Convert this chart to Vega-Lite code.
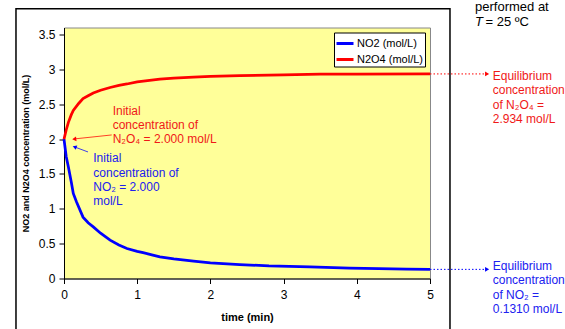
{
  "$schema": "https://vega.github.io/schema/vega-lite/v6.json",
  "width": 366,
  "height": 251,
  "autosize": {"type": "none"},
  "padding": {"left": 64, "top": 27.5, "right": 135, "bottom": 50.5},
  "background": "white",
  "data": {"values": [{}]},
  "config": {
    "font": "Liberation Sans",
    "view": {"fill": "#FFFF99", "stroke": "#888888", "strokeWidth": 1},
    "axisX": {
      "tickCount": 5, "grid": false, "tickSize": 5, "labelFlush": false,
      "domainColor": "black", "tickColor": "black",
      "labelFontSize": 12, "labelColor": "black", "labelPadding": 6,
      "labelExpr": "format(abs(datum.value), '~g')",
      "titleFontSize": 11, "titleFontWeight": "bold", "titleColor": "black", "titlePadding": 11
    },
    "axisY": {
      "tickCount": 8, "grid": false, "tickSize": 5, "labelFlush": false,
      "domainColor": "black", "tickColor": "black",
      "labelFontSize": 12, "labelColor": "black", "labelPadding": 4,
      "labelExpr": "format(abs(datum.value), '~g')",
      "titleFontSize": 9, "titleFontWeight": "bold", "titleColor": "black", "titlePadding": 8
    },
    "legend": {
      "orient": "top-right",
      "offset": 5,
      "fillColor": "white",
      "strokeColor": "black",
      "strokeWidth": 1,
      "cornerRadius": 0,
      "padding": 1,
      "symbolType": "stroke",
      "symbolSize": 289,
      "symbolStrokeWidth": 3,
      "labelFont": "Liberation Sans",
      "labelFontSize": 11,
      "labelColor": "black",
      "labelOffset": 2,
      "rowPadding": 0
    }
  },
  "datasets": {
    "curves": [
      {"t": 0, "v": 2.0, "series": "NO2 (mol/L)"},
      {"t": 0.03, "v": 1.75, "series": "NO2 (mol/L)"},
      {"t": 0.06, "v": 1.6, "series": "NO2 (mol/L)"},
      {"t": 0.1, "v": 1.38, "series": "NO2 (mol/L)"},
      {"t": 0.127, "v": 1.22, "series": "NO2 (mol/L)"},
      {"t": 0.17, "v": 1.1, "series": "NO2 (mol/L)"},
      {"t": 0.26, "v": 0.88, "series": "NO2 (mol/L)"},
      {"t": 0.33, "v": 0.8, "series": "NO2 (mol/L)"},
      {"t": 0.4, "v": 0.74, "series": "NO2 (mol/L)"},
      {"t": 0.5, "v": 0.65, "series": "NO2 (mol/L)"},
      {"t": 0.63, "v": 0.55, "series": "NO2 (mol/L)"},
      {"t": 0.75, "v": 0.48, "series": "NO2 (mol/L)"},
      {"t": 0.86, "v": 0.43, "series": "NO2 (mol/L)"},
      {"t": 1.0, "v": 0.39, "series": "NO2 (mol/L)"},
      {"t": 1.08, "v": 0.37, "series": "NO2 (mol/L)"},
      {"t": 1.2, "v": 0.34, "series": "NO2 (mol/L)"},
      {"t": 1.31, "v": 0.31, "series": "NO2 (mol/L)"},
      {"t": 1.5, "v": 0.28, "series": "NO2 (mol/L)"},
      {"t": 1.77, "v": 0.25, "series": "NO2 (mol/L)"},
      {"t": 2.0, "v": 0.225, "series": "NO2 (mol/L)"},
      {"t": 2.4, "v": 0.2, "series": "NO2 (mol/L)"},
      {"t": 2.8, "v": 0.18, "series": "NO2 (mol/L)"},
      {"t": 3.36, "v": 0.167, "series": "NO2 (mol/L)"},
      {"t": 3.9, "v": 0.148, "series": "NO2 (mol/L)"},
      {"t": 4.3, "v": 0.142, "series": "NO2 (mol/L)"},
      {"t": 4.68, "v": 0.133, "series": "NO2 (mol/L)"},
      {"t": 5.0, "v": 0.131, "series": "NO2 (mol/L)"},
      {"t": 0, "v": 2.0, "series": "N2O4 (mol/L)"},
      {"t": 0.03, "v": 2.13, "series": "N2O4 (mol/L)"},
      {"t": 0.06, "v": 2.24, "series": "N2O4 (mol/L)"},
      {"t": 0.1, "v": 2.35, "series": "N2O4 (mol/L)"},
      {"t": 0.127, "v": 2.41, "series": "N2O4 (mol/L)"},
      {"t": 0.2, "v": 2.51, "series": "N2O4 (mol/L)"},
      {"t": 0.26, "v": 2.58, "series": "N2O4 (mol/L)"},
      {"t": 0.33, "v": 2.62, "series": "N2O4 (mol/L)"},
      {"t": 0.4, "v": 2.66, "series": "N2O4 (mol/L)"},
      {"t": 0.5, "v": 2.7, "series": "N2O4 (mol/L)"},
      {"t": 0.63, "v": 2.74, "series": "N2O4 (mol/L)"},
      {"t": 0.75, "v": 2.77, "series": "N2O4 (mol/L)"},
      {"t": 0.86, "v": 2.79, "series": "N2O4 (mol/L)"},
      {"t": 1.0, "v": 2.82, "series": "N2O4 (mol/L)"},
      {"t": 1.31, "v": 2.86, "series": "N2O4 (mol/L)"},
      {"t": 1.5, "v": 2.875, "series": "N2O4 (mol/L)"},
      {"t": 1.77, "v": 2.89, "series": "N2O4 (mol/L)"},
      {"t": 2.0, "v": 2.9, "series": "N2O4 (mol/L)"},
      {"t": 2.4, "v": 2.91, "series": "N2O4 (mol/L)"},
      {"t": 3.0, "v": 2.92, "series": "N2O4 (mol/L)"},
      {"t": 3.5, "v": 2.93, "series": "N2O4 (mol/L)"},
      {"t": 4.0, "v": 2.93, "series": "N2O4 (mol/L)"},
      {"t": 5.0, "v": 2.934, "series": "N2O4 (mol/L)"}
    ]
  },
  "layer": [
    {
      "data": {"name": "curves"},
      "mark": {"type": "line", "strokeWidth": 2.75},
      "encoding": {
        "x": {
          "field": "t", "type": "quantitative",
          "scale": {"domain": [0, 5], "nice": false, "zero": false},
          "axis": {"title": "time (min)"}
        },
        "y": {
          "field": "v", "type": "quantitative",
          "scale": {"domain": [0, 3.6], "nice": false},
          "axis": {"title": "NO2 and N2O4 concentration (mol/L)"}
        },
        "color": {
          "field": "series", "type": "nominal",
          "scale": {"domain": ["NO2 (mol/L)", "N2O4 (mol/L)"], "range": ["#0000FF", "#FF0000"]},
          "legend": {"title": null}
        }
      }
    },
    {
      "mark": {"type": "rect", "filled": false, "stroke": "black", "strokeWidth": 1.5},
      "encoding": {
        "x": {"datum": -0.656, "type": "quantitative"},
        "x2": {"datum": 5.273},
        "y": {"datum": 3.87, "type": "quantitative"},
        "y2": {"datum": -1.2}
      }
    },
    {
      "mark": {"type": "text", "align": "left", "baseline": "middle", "fontSize": 13, "color": "black"},
      "encoding": {
        "x": {"datum": 5.615, "type": "quantitative"},
        "y": {"datum": 3.896, "type": "quantitative"},
        "text": {"value": "performed at"}
      }
    },
    {
      "mark": {"type": "text", "align": "left", "baseline": "middle", "fontSize": 13, "fontStyle": "italic", "color": "black"},
      "encoding": {
        "x": {"datum": 5.615, "type": "quantitative"},
        "y": {"datum": 3.675, "type": "quantitative"},
        "text": {"value": "T"}
      }
    },
    {
      "mark": {"type": "text", "align": "left", "baseline": "middle", "fontSize": 13, "color": "black"},
      "encoding": {
        "x": {"datum": 5.758, "type": "quantitative"},
        "y": {"datum": 3.675, "type": "quantitative"},
        "text": {"value": "= 25 ºC"}
      }
    },
    {
      "mark": {"type": "text", "align": "left", "baseline": "middle", "fontSize": 12, "lineHeight": 14.3, "color": "#F01818"},
      "encoding": {
        "x": {"datum": 0.665, "type": "quantitative"},
        "y": {"datum": 2.407, "type": "quantitative"},
        "text": {"value": ["Initial", "concentration of", "N₂O₄ = 2.000 mol/L"]}
      }
    },
    {
      "mark": {"type": "text", "align": "left", "baseline": "middle", "fontSize": 12, "lineHeight": 14.3, "color": "#2020F0"},
      "encoding": {
        "x": {"datum": 0.4, "type": "quantitative"},
        "y": {"datum": 1.724, "type": "quantitative"},
        "text": {"value": ["Initial", "concentration of", "NO₂ = 2.000", "mol/L"]}
      }
    },
    {
      "mark": {"type": "text", "align": "left", "baseline": "middle", "fontSize": 12, "lineHeight": 14.3, "color": "#F01818"},
      "encoding": {
        "x": {"datum": 5.857, "type": "quantitative"},
        "y": {"datum": 2.904, "type": "quantitative"},
        "text": {"value": ["Equilibrium", "concentration", "of N₂O₄ =", "2.934 mol/L"]}
      }
    },
    {
      "mark": {"type": "text", "align": "left", "baseline": "middle", "fontSize": 12, "lineHeight": 14.3, "color": "#2020F0"},
      "encoding": {
        "x": {"datum": 5.857, "type": "quantitative"},
        "y": {"datum": 0.179, "type": "quantitative"},
        "text": {"value": ["Equilibrium", "concentration", "of NO₂ =", "0.1310 mol/L"]}
      }
    },
    {
      "mark": {"type": "rule", "color": "#FF0000", "strokeWidth": 0.75},
      "encoding": {
        "x": {"datum": 0.652, "type": "quantitative"},
        "y": {"datum": 2.059, "type": "quantitative"},
        "x2": {"datum": 0.16},
        "y2": {"datum": 2.004}
      }
    },
    {
      "mark": {"type": "point", "shape": "triangle-left", "filled": true, "color": "#FF0000", "size": 22, "angle": -6.4, "opacity": 1},
      "encoding": {
        "x": {"datum": 0.14, "type": "quantitative"},
        "y": {"datum": 2.0, "type": "quantitative"}
      }
    },
    {
      "mark": {"type": "rule", "color": "#0000FF", "strokeWidth": 0.75},
      "encoding": {
        "x": {"datum": 0.328, "type": "quantitative"},
        "y": {"datum": 1.815, "type": "quantitative"},
        "x2": {"datum": 0.16},
        "y2": {"datum": 1.881}
      }
    },
    {
      "mark": {"type": "point", "shape": "triangle-left", "filled": true, "color": "#0000FF", "size": 22, "angle": 19.7, "opacity": 1},
      "encoding": {
        "x": {"datum": 0.145, "type": "quantitative"},
        "y": {"datum": 1.887, "type": "quantitative"}
      }
    },
    {
      "mark": {"type": "rule", "color": "#FF0000", "strokeWidth": 1, "strokeDash": [1.5, 2]},
      "encoding": {
        "x": {"datum": 5.0, "type": "quantitative"},
        "x2": {"datum": 5.76},
        "y": {"datum": 2.934, "type": "quantitative"}
      }
    },
    {
      "mark": {"type": "point", "shape": "triangle-right", "filled": true, "color": "#FF0000", "size": 22, "opacity": 1},
      "encoding": {
        "x": {"datum": 5.78, "type": "quantitative"},
        "y": {"datum": 2.934, "type": "quantitative"}
      }
    },
    {
      "mark": {"type": "rule", "color": "#0000FF", "strokeWidth": 1, "strokeDash": [1.5, 2]},
      "encoding": {
        "x": {"datum": 5.0, "type": "quantitative"},
        "x2": {"datum": 5.76},
        "y": {"datum": 0.131, "type": "quantitative"}
      }
    },
    {
      "mark": {"type": "point", "shape": "triangle-right", "filled": true, "color": "#0000FF", "size": 22, "opacity": 1},
      "encoding": {
        "x": {"datum": 5.78, "type": "quantitative"},
        "y": {"datum": 0.131, "type": "quantitative"}
      }
    }
  ]
}
